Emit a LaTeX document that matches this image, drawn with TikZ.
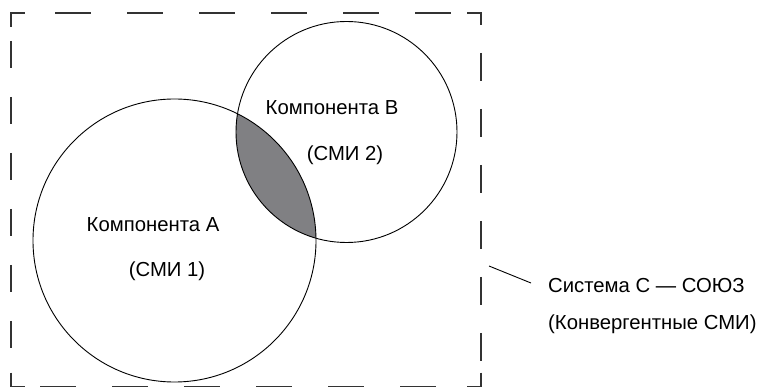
\documentclass[tikz,border=0pt]{standalone}
\usepackage{fontspec}
\setmainfont{Liberation Sans}
\definecolor{lensgray}{RGB}{128,128,131}
\tikzset{
  frame/.style={line width=1.3pt, draw=black!80},
  ring/.style={circle, draw, line width=0.9pt, inner sep=0pt},
  lens/.style={fill=lensgray},
  lbl/.style={font=\fontsize{20.3}{24}\selectfont, inner sep=0pt, anchor=base}
}
\begin{document}
\begin{tikzpicture}[x=1pt, y=-1pt]
      \useasboundingbox (0,0) rectangle (769,387);
      % dashed frame of system C
      \foreach \xa/\ya/\xb/\yb/\p/\on/\off in{11/13/481/13/28/36/36, 11/386.7/481/386.7/43/36/36, 11/13/11/387/28/27/29, 481/13/481/387/16/28/28}{
        \draw[frame, dash pattern=on \on pt off \off pt, dash phase=\p pt](\xa,\ya)--(\xb,\yb);
      }
      \foreach \x/\y/\dx/\dy in{11/13/14/14, 481/13/-14/12, 11/386.7/14/-14, 481/386.7/-14/-14}{
        \draw[frame](\x,\y+\dy)--(\x,\y)--(\x+\dx,\y);
      }
      % components
      \coordinate(cA) at (174.5,240.5);
      \coordinate(cB) at (346.5,132);
      \begin{scope}
        \clip (cA) circle (141.5);
        \fill[lens] (cB) circle (110.5);
      \end{scope}
      \node(A)[ring, minimum size=283pt] at (cA) {};
      \node(B)[ring, minimum size=221pt] at (cB) {};
      \node(compA)[lbl] at (153,232) {Компонента А};
      \node(smiA)[lbl] at (167,277) {(СМИ 1)};
      \node(compB)[lbl] at (332,115) {Компонента В};
      \node(smiB)[lbl] at (345,161) {(СМИ 2)};
      % system label
      \node(sys1)[lbl, anchor=base west] at (548,293) {Система С — СОЮЗ};
      \node(sys2)[lbl, anchor=base west] at (548,330) {(Конвергентные СМИ)};
      \coordinate(lead) at (489,266);
      \draw[line width=0.9pt](lead)--([xshift=-17pt, yshift=3pt]sys1.west);
    \end{tikzpicture}
\end{document}
